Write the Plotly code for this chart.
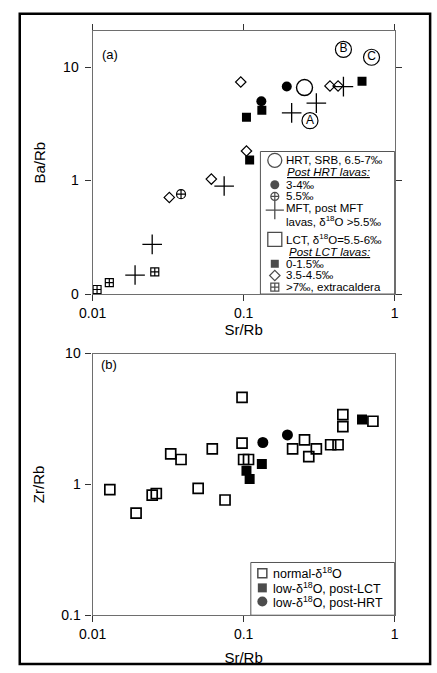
import plotly.graph_objects as go

W, H = 437, 673

# ---------------- panel (a): Ba/Rb vs Sr/Rb ----------------
hrt_srb_x = [0.253]
hrt_srb_y = [6.6]

hrt_member_lbl = ["A", "B", "C"]
hrt_member_x = [0.275, 0.458, 0.703]
hrt_member_y = [3.37, 14.3, 12.2]

post_hrt_34_x = [0.193, 0.131]
post_hrt_34_y = [6.73, 5.0]

post_hrt_55_x = [0.0385]
post_hrt_55_y = [0.758]

mft_x = [0.208, 0.303, 0.458, 0.0743, 0.0248, 0.0191]
mft_y = [3.95, 4.81, 6.73, 0.894, 0.274, 0.147]

lct_lbl = ["A", "B"]
lct_x = [0.0495, 0.0962]
lct_y = [0.643, 2.15]

post_lct_low_x = [0.608, 0.1044, 0.132, 0.1096]
post_lct_low_y = [7.48, 3.62, 4.16, 1.52]

post_lct_mid_x = [0.0957, 0.373, 0.422, 0.1044, 0.0611, 0.0322]
post_lct_mid_y = [7.38, 6.82, 6.82, 1.82, 1.03, 0.710]

extracaldera_x = [0.0258, 0.0129, 0.0107]
extracaldera_y = [0.157, 0.126, 0.1096]

# ---------------- panel (b): Zr/Rb vs Sr/Rb ----------------
normal_x = [0.0130, 0.0194, 0.0248, 0.0264, 0.0329, 0.0385, 0.050, 0.0620,
            0.0753, 0.0976, 0.0976, 0.100, 0.1077, 0.211, 0.253, 0.270,
            0.303, 0.377, 0.422, 0.454, 0.454, 0.718]
normal_y = [0.912, 0.604, 0.828, 0.852, 1.71, 1.55, 0.933, 1.87,
            0.760, 4.62, 2.07, 1.55, 1.55, 1.87, 2.19, 1.63,
            1.87, 2.01, 2.01, 3.41, 2.76, 3.04]

low_lct_x = [0.608, 0.1044, 0.1096, 0.132]
low_lct_y = [3.13, 1.27, 1.10, 1.43]

low_hrt_x = [0.134, 0.195]
low_hrt_y = [2.09, 2.39]

# axis ticks
x_tickvals = [0.01, 0.1, 1]
x_ticktext = ["0.01", "0.1", "1"]
ya_tickvals = [0.1, 1, 10]
ya_ticktext = ["0", "1", "10"]
yb_tickvals = [0.1, 1, 10]
yb_ticktext = ["0.1", "1", "10"]

FONT = "Liberation Sans, Arial, sans-serif"
INK = "black"
FRAME = "#6e6e6e"


def px(x):
    return x / W


def py(y):
    return 1 - y / H


fig = go.Figure()


def add(x, y, symbol, size, lw=1.3, xa="x", ya="y", **kw):
    fig.add_trace(go.Scatter(
        x=x, y=y, mode="markers", xaxis=xa, yaxis=ya, showlegend=False,
        marker=dict(symbol=symbol, size=size, color=INK,
                    line=dict(color=INK, width=lw)),
        **kw))


# panel (a) marks
add(post_lct_mid_x, post_lct_mid_y, "diamond-open", 8, lw=1.2)
add(post_lct_low_x, post_lct_low_y, "square", 9, lw=0)
add(post_hrt_34_x, post_hrt_34_y, "circle", 10, lw=0)
add(post_hrt_55_x, post_hrt_55_y, "circle-cross-open", 9, lw=1.2)
add(mft_x, mft_y, "cross-thin-open", 14, lw=1.3)
add(extracaldera_x, extracaldera_y, "square-cross-open", 8, lw=1.2)
add(hrt_srb_x, hrt_srb_y, "circle-open", 16, lw=1.4)
fig.add_trace(go.Scatter(
    x=hrt_member_x, y=hrt_member_y, mode="markers+text", text=hrt_member_lbl,
    textposition="middle center", showlegend=False,
    textfont=dict(family=FONT, size=12, color=INK),
    marker=dict(symbol="circle-open", size=16, color=INK, line=dict(color=INK, width=1.2))))

# boxed LCT labels
for lbl, x, y in zip(lct_lbl, lct_x, lct_y):
    fig.add_annotation(x=x, y=y, xref="x", yref="y", text=lbl, showarrow=False,
                       font=dict(family=FONT, size=12, color=INK),
                       bordercolor="#444", borderwidth=1.6, borderpad=1,
                       bgcolor="white")

fig.add_annotation(x=hrt_srb_x[0], y=hrt_srb_y[0], xref="x", yref="y", text="SRB",
                   showarrow=False, yshift=14,
                   font=dict(family=FONT, size=11, color=INK))

# panel (b) marks
add(normal_x, normal_y, "square-open", 10, lw=1.7, xa="x2", ya="y2")
add(low_lct_x, low_lct_y, "square", 10, lw=0, xa="x2", ya="y2")
add(low_hrt_x, low_hrt_y, "circle", 11, lw=0, xa="x2", ya="y2")

# ---------------- hand-built keys (pixel layout) ----------------
D18 = "\u03b4<sup>18</sup>O"
PM = "\u2030"
key_a = [  # (symbol, size, line width, text, y)
    ("circle-open", 14, 1.3, f"HRT, SRB, 6.5-7{PM}", 156),
    (None, 0, 0, "<i><u>Post HRT lavas:</u></i>", 168),
    ("circle", 9, 0, f"3-4{PM}", 181),
    ("circle-cross-open", 8, 1.2, f"5.5{PM}", 193),
    ("cross-thin-open", 13, 1.3, "MFT, post MFT", 205),
    (None, 0, 0, f"lavas, {D18} >5.5{PM}", 218),
    ("square-open", 14, 1.3, f"LCT, {D18}=5.5-6{PM}", 237),
    (None, 0, 0, "<i><u>Post LCT lavas:</u></i>", 250),
    ("square", 8, 0, f"0-1.5{PM}", 262),
    ("diamond-open", 8, 1.2, f"3.5-4.5{PM}", 274),
    ("square-cross-open", 8, 1.2, f">7{PM}, extracaldera", 286),
]
key_b = [
    ("square-open", 9, 1.5, f"normal-{D18}", 579),
    ("square", 9, 0, f"low-{D18}, post-LCT", 594),
    ("circle", 10, 0, f"low-{D18}, post-HRT", 608),
]

key_a_box = (257, 147, 397, 293)
key_b_box = (247, 568, 397, 622)

for (x0, y0, x1, y1) in (key_a_box, key_b_box):
    fig.add_shape(type="rect", xref="paper", yref="paper",
                  x0=px(x0), x1=px(x1), y0=py(y1), y1=py(y0),
                  line=dict(color="#555", width=1), fillcolor="white", layer="below")

kx, ky, ksym, ksize, klw = [], [], [], [], []
for sym, size, lw, text, y in key_a:
    indent = 282
    if "Post" in text:
        indent = 283 if "HRT" in text else 285
    fig.add_annotation(x=px(indent), y=py(y), xref="paper", yref="paper", text=text,
                       showarrow=False, xanchor="left", yanchor="middle",
                       font=dict(family=FONT, size=11.5, color=INK))
    if sym:
        kx.append(272)
        ky.append(y if sym != "cross-thin-open" else y + 2)
        ksym.append(sym); ksize.append(size); klw.append(lw)
for sym, size, lw, text, y in key_b:
    fig.add_annotation(x=px(268), y=py(y), xref="paper", yref="paper", text=text,
                       showarrow=False, xanchor="left", yanchor="middle",
                       font=dict(family=FONT, size=12.5, color=INK))
    kx.append(259); ky.append(y)
    ksym.append(sym); ksize.append(size); klw.append(lw)

fig.add_trace(go.Scatter(
    x=kx, y=ky, mode="markers", xaxis="x3", yaxis="y3", showlegend=False,
    cliponaxis=False,
    marker=dict(symbol=ksym, size=ksize, color=INK,
                line=dict(color=INK, width=klw))))

# panel tags
fig.add_annotation(x=px(90), y=py(38), xref="paper", yref="paper", text="(a)",
                   showarrow=False, xanchor="left", font=dict(family=FONT, size=13, color=INK))
fig.add_annotation(x=px(89), y=py(365), xref="paper", yref="paper", text="(b)",
                   showarrow=False, xanchor="left", font=dict(family=FONT, size=13, color=INK))

# outer frame
fig.add_shape(type="rect", xref="paper", yref="paper",
              x0=px(6), x1=px(434), y0=py(672), y1=py(6),
              line=dict(color="black", width=2.5), layer="above")

xdom = [px(82), px(397)]
tickfont = dict(family=FONT, size=14, color=INK)
titlefont = dict(family=FONT, size=15, color=INK)
common = dict(type="log", showgrid=False, zeroline=False, showline=True,
              linecolor=FRAME, linewidth=1.3, ticks="outside", ticklen=6,
              tickcolor="#333", tickwidth=1, tickfont=tickfont)

fig.update_layout(
    width=W, height=H,
    margin=dict(l=0, r=0, t=0, b=0),
    paper_bgcolor="white", plot_bgcolor="rgba(0,0,0,0)",
    font=dict(family=FONT, color=INK),
    xaxis=dict(domain=xdom, anchor="y", range=[-2, 0], tickvals=x_tickvals,
               ticktext=x_ticktext, mirror="allticks",
               title=dict(text="Sr/Rb", font=titlefont, standoff=4), **common),
    yaxis=dict(domain=[py(293), py(24)], anchor="x", range=[-1, 1.314],
               tickvals=ya_tickvals, ticktext=ya_ticktext, mirror="allticks",
               ticklabelstandoff=4,
               title=dict(text="Ba/Rb", font=titlefont, standoff=13), **common),
    xaxis2=dict(domain=xdom, anchor="y2", range=[-2, 0], tickvals=x_tickvals,
                ticktext=x_ticktext, mirror=True,
                title=dict(text="Sr/Rb", font=titlefont, standoff=11), **common),
    yaxis2=dict(domain=[py(622), py(354)], anchor="x2", range=[-1, 1],
                tickvals=yb_tickvals, ticktext=yb_ticktext, mirror=True,
                ticklabelstandoff=2,
                title=dict(text="Zr/Rb", font=titlefont, standoff=12), **common),
    xaxis3=dict(domain=[0, 1], range=[0, W], visible=False, anchor="y3", fixedrange=True),
    yaxis3=dict(domain=[0, 1], range=[H, 0], visible=False, anchor="x3", fixedrange=True),
)

fig.write_html("out.html")
